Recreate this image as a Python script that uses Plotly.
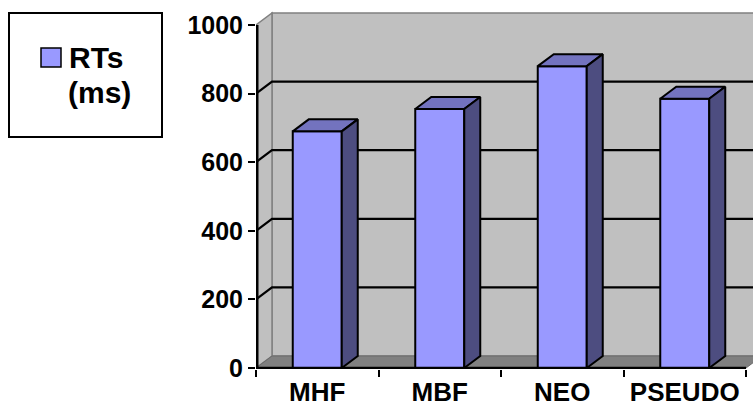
import plotly.graph_objects as go

# ---- data -------------------------------------------------------------
categories = ["MHF", "MBF", "NEO", "PSEUDO"]
rt_ms = [690, 755, 880, 785]
value_ticks = [0, 200, 400, 600, 800, 1000]
legend_lines = ["RTs", "(ms)"]

# ---- geometry of the pseudo-3D frame ----------------------------------
W, H = 753, 405
M_L, M_R, M_T, M_B = 256, 0, 10, 36
PLOT_W = W - M_L - M_R
PLOT_H = H - M_T - M_B
CAT_PX = 122.5          # pixels per category slot
PX_PER_UNIT = 0.343     # pixels per ms
ZERO_PX = 368           # pixel row of value 0

DEPTH_X = 16 / CAT_PX           # depth offset, category units
DEPTH_Y = 12 / PX_PER_UNIT      # depth offset, value units
HALF_W = 0.2                    # half of a bar's width
TOP = value_ticks[-1]

n = len(categories)
xs = list(range(n))
x_left, x_right = -0.5, n - 0.5

x_range = [x_left, x_left + PLOT_W / CAT_PX]
y_range = [-(M_T + PLOT_H - ZERO_PX) / PX_PER_UNIT, (ZERO_PX - M_T) / PX_PER_UNIT]

WALL = "#C0C0C0"
FLOOR = "#808080"
EDGE = "#808080"
FRONT = "#9999FF"
TOPC = "#7373BF"
SIDE = "#4D4D80"

FONT = "Liberation Sans, Arial, sans-serif"


def px_x(p):
    return (p - M_L) / PLOT_W


def px_y(p):
    return (M_T + PLOT_H - p) / PLOT_H


shapes = []
# back wall
shapes.append(dict(type="rect", xref="x", yref="y", layer="below",
                   x0=x_left + DEPTH_X, x1=x_right + DEPTH_X,
                   y0=DEPTH_Y, y1=TOP + DEPTH_Y,
                   fillcolor=WALL, line=dict(color=EDGE, width=1.5)))
# left side wall
shapes.append(dict(type="path", xref="x", yref="y", layer="below",
                   path=(f"M{x_left},0 L{x_left + DEPTH_X},{DEPTH_Y} "
                         f"L{x_left + DEPTH_X},{TOP + DEPTH_Y} L{x_left},{TOP} Z"),
                   fillcolor=WALL, line=dict(color=EDGE, width=1.5)))
# floor
shapes.append(dict(type="path", xref="x", yref="y", layer="below",
                   path=(f"M{x_left},0 L{x_right},0 L{x_right + DEPTH_X},{DEPTH_Y} "
                         f"L{x_left + DEPTH_X},{DEPTH_Y} Z"),
                   fillcolor=FLOOR, line=dict(color="#6a6a6a", width=1)))
# gridlines running along side wall and back wall
for v in value_ticks[1:-1]:
    shapes.append(dict(type="path", xref="x", yref="y", layer="below",
                       path=(f"M{x_left},{v} L{x_left + DEPTH_X},{v + DEPTH_Y} "
                             f"L{x_right + DEPTH_X},{v + DEPTH_Y}"),
                       line=dict(color="black", width=2.2)))
# front value axis line
ax_x = x_left + 1.25 / CAT_PX
shapes.append(dict(type="line", xref="x", yref="y", layer="above",
                   x0=ax_x, x1=ax_x, y0=0, y1=TOP,
                   line=dict(color="black", width=2.5)))
# front category axis line
shapes.append(dict(type="line", xref="x", yref="y", layer="above",
                   x0=x_left, x1=x_right, y0=0, y1=0,
                   line=dict(color="black", width=2.5)))

# legend box and key
shapes.append(dict(type="rect", xref="paper", yref="paper",
                   x0=px_x(9), x1=px_x(162), y0=px_y(137), y1=px_y(13),
                   fillcolor="white", line=dict(color="black", width=2)))
shapes.append(dict(type="rect", xref="paper", yref="paper",
                   x0=px_x(41), x1=px_x(61), y0=px_y(67), y1=px_y(48),
                   fillcolor=FRONT, line=dict(color="black", width=1.5)))

legend_font = dict(family=FONT, size=30, color="black", weight="bold")
annotations = [
    dict(text=legend_lines[0], xref="paper", yref="paper", x=px_x(67), y=px_y(58),
         xanchor="left", yanchor="middle", showarrow=False, font=legend_font),
    dict(text=legend_lines[1], xref="paper", yref="paper", x=px_x(66), y=px_y(92),
         xanchor="left", yanchor="middle", showarrow=False, font=legend_font),
]

# top and side faces of each column
top_x, top_y, side_x, side_y = [], [], [], []
for c, v in zip(xs, rt_ms):
    l, r = c - HALF_W, c + HALF_W
    top_x += [l, r, r + DEPTH_X, l + DEPTH_X, l, None]
    top_y += [v, v, v + DEPTH_Y, v + DEPTH_Y, v, None]
    side_x += [r, r + DEPTH_X, r + DEPTH_X, r, r, None]
    side_y += [0, DEPTH_Y, v + DEPTH_Y, v, 0, None]

fig = go.Figure()
fig.add_trace(go.Bar(x=xs, y=rt_ms, width=2 * HALF_W, name="RTs (ms)",
                     marker=dict(color=FRONT, line=dict(color="black", width=2)),
                     showlegend=False))
fig.add_trace(go.Scatter(x=top_x, y=top_y, mode="lines", fill="toself",
                         fillcolor=TOPC, line=dict(color="black", width=2),
                         hoverinfo="skip", showlegend=False))
fig.add_trace(go.Scatter(x=side_x, y=side_y, mode="lines", fill="toself",
                         fillcolor=SIDE, line=dict(color="black", width=2),
                         hoverinfo="skip", showlegend=False))

x_font = dict(family=FONT, size=26, color="black", weight="bold")
y_font = dict(family=FONT, size=25, color="black", weight="bold")

fig.update_layout(
    width=W, height=H,
    margin=dict(l=M_L, r=M_R, t=M_T, b=M_B, pad=0, autoexpand=False),
    paper_bgcolor="white", plot_bgcolor="white",
    showlegend=False,
    shapes=shapes,
    annotations=annotations,
    xaxis=dict(range=x_range, tickmode="array", tickvals=xs, ticktext=categories,
               ticks="outside", ticklen=0, tickcolor="rgba(0,0,0,0)",
               minor=dict(tickmode="array", tickvals=[x_left + i for i in range(n + 1)],
                          ticks="outside", ticklen=7, tickwidth=2, tickcolor="black"),
               showline=False, showgrid=False, zeroline=False, automargin=False,
               tickfont=x_font, fixedrange=True),
    yaxis=dict(range=y_range, tickmode="array", tickvals=value_ticks,
               ticks="outside", ticklen=7, tickwidth=2, tickcolor="black",
               showline=False, showgrid=False, zeroline=False, automargin=False,
               tickfont=y_font, fixedrange=True),
)

fig.write_html("out.html")
